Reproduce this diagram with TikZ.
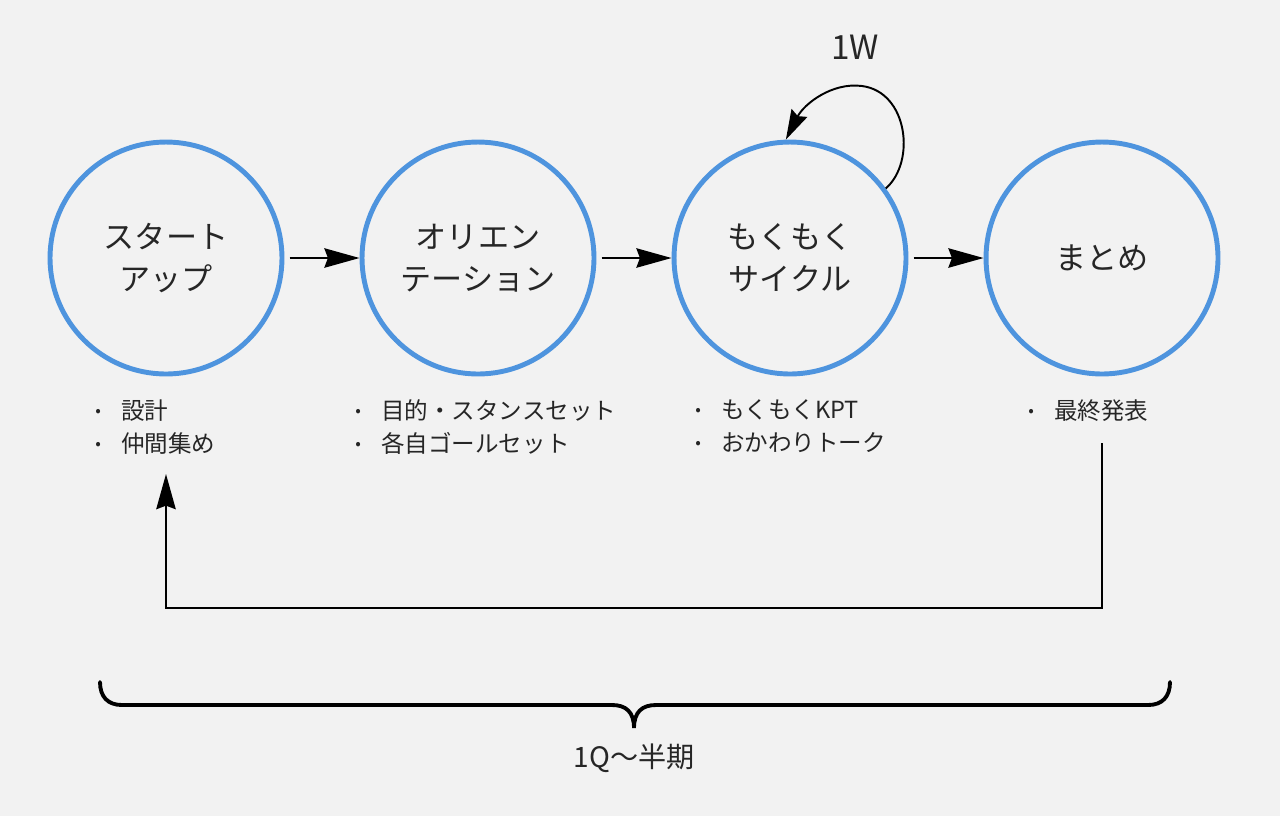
\documentclass[tikz,border=0pt]{standalone}
\usepackage{fontspec}
\setmainfont{Noto Sans CJK JP}
\usetikzlibrary{arrows.meta,positioning}
\definecolor{bggray}{HTML}{F2F2F2}
\definecolor{ringblue}{RGB}{78,148,222}
\definecolor{ink}{HTML}{262626}
\newcommand{\itm}{\makebox[1.1em][l]{\raisebox{0.2ex}{\scalebox{0.7}{\textbullet}}}}
\tikzset{
  stage/.style={circle, draw=ringblue, line width=2.8pt, minimum size=4.64cm,
                inner sep=0pt, align=center, text=ink,
                font=\fontsize{17.7}{23.8}\selectfont},
  note/.style={anchor=north west, align=left, inner sep=0pt, text=ink,
               font=\fontsize{13.4}{18.9}\selectfont},
  ed/.style={-{Stealth[length=20pt,width=11pt,inset=2pt]}, line width=1.4pt},
  edl/.style={-{Stealth[length=17pt,width=10pt,inset=2pt]}, line width=1.1pt},
  brace/.style={line width=2.2pt, line cap=round}
}
\begin{document}
\begin{tikzpicture}[x=0.02cm,y=0.02cm]
\fill[bggray] (0,0) rectangle (1280,-816);
\useasboundingbox (0,0) rectangle (1280,-816);
% stages
\node[stage] (start)  at (166,-258)  {スタート\\アップ};
\node[stage] (orient) at (478,-258)  {オリエン\\テーション};
\node[stage] (moku)   at (790,-258)  {もくもく\\サイクル};
\node[stage] (matome) at (1102,-258) {まとめ};
% notes
\node[note] (startnote)  at (95,-399)   {\itm 設計\\\itm 仲間集め};
\node[note] (orientnote) at (355,-399)  {\itm 目的・スタンスセット\\\itm 各自ゴールセット};
\node[note] (mokunote)   at (695,-399)  {\itm もくもくKPT\\\itm おかわりトーク};
\node[note] (matomenote) at (1028,-399) {\itm 最終発表};
% flow
\draw[ed, shorten <=3pt] (start) -- (orient);
\draw[ed, shorten <=3pt] (orient) -- (moku);
\draw[ed, shorten <=3pt] (moku) -- (matome);
\draw[edl] (moku.36) .. controls (916,-162) and (908,-92) .. (862,-86)
  .. controls (832,-82) and (804,-104) .. (moku.92);
\node[font=\fontsize{19}{21}\selectfont, text=ink] (week) at (855,-47) {1W};
% loop back
\coordinate (retA) at (1102,-443);
\coordinate (retB) at (166,-474);
\draw[ed] (retA) -- (1102,-608) -| (retB);
% span
\draw[brace] (100,-682) .. controls (100,-697) and (108,-705) .. (122,-705)
  -- (612,-705) .. controls (626,-705) and (634,-712) .. (634,-728)
  .. controls (634,-712) and (642,-705) .. (656,-705)
  -- (1148,-705) .. controls (1162,-705) and (1170,-697) .. (1170,-682);
\node[font=\fontsize{16}{18}\selectfont, text=ink] (span) at (634,-758) {1Q〜半期};
\end{tikzpicture}
\end{document}
